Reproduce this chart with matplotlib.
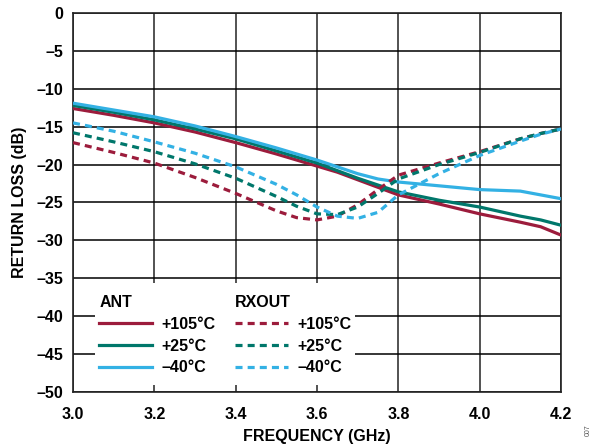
import numpy as np
import matplotlib.pyplot as plt
from matplotlib.patches import Rectangle
from matplotlib.lines import Line2D
from matplotlib.ticker import FuncFormatter

plt.rcParams['font.family'] = ['Liberation Sans', 'DejaVu Sans']
plt.rcParams['font.weight'] = 'bold'

# frecuencias (GHz)
freq = [3.0, 3.1, 3.2, 3.3, 3.4, 3.5, 3.55, 3.6, 3.65, 3.7, 3.75, 3.8,
        3.9, 4.0, 4.1, 4.15, 4.2]

# ANT (líneas continuas)
ant_105 = [-12.6, -13.5, -14.5, -15.7, -17.1, -18.6, -19.4, -20.2, -21.0, -22.0,
           -23.0, -24.0, -25.2, -26.5, -27.6, -28.2, -29.3]
ant_25 = [-12.2, -13.1, -14.1, -15.3, -16.6, -18.2, -19.0, -19.8, -20.8, -21.8,
          -22.7, -23.6, -24.7, -25.6, -26.8, -27.3, -28.0]
ant_m40 = [-11.9, -12.8, -13.7, -14.9, -16.3, -17.8, -18.6, -19.4, -20.3, -21.2,
           -21.9, -22.3, -22.8, -23.3, -23.5, -24.0, -24.5]

# RXOUT (líneas discontinuas)
rx_105 = [-17.1, -18.4, -19.8, -21.7, -23.8, -26.1, -27.0, -27.3, -26.8, -25.3,
          -23.3, -21.4, -19.8, -18.3, -16.6, -15.9, -15.3]
rx_25 = [-15.8, -17.0, -18.3, -19.9, -21.8, -24.2, -25.5, -26.5, -26.6, -25.6,
         -23.8, -21.9, -20.0, -18.4, -16.6, -15.9, -15.3]
rx_m40 = [-14.5, -15.6, -17.0, -18.5, -20.3, -22.6, -24.0, -25.6, -26.8, -27.1,
          -26.3, -24.0, -21.2, -18.8, -16.9, -16.0, -15.3]

red = '#9c1c3c'
green = '#00776b'
blue = '#33b1e4'

fig = plt.figure(figsize=(5.97, 4.46), dpi=100)
ax = fig.add_axes([0.1223, 0.1211, 0.8174, 0.8498])

lw = 2.3
dash = (0, (2.2, 1.6))
ax.plot(freq, ant_105, color=red, lw=lw, zorder=4)
ax.plot(freq, ant_25, color=green, lw=lw, zorder=4)
ax.plot(freq, ant_m40, color=blue, lw=lw, zorder=4)
ax.plot(freq, rx_105, color=red, lw=lw, ls=dash, zorder=4)
ax.plot(freq, rx_25, color=green, lw=lw, ls=dash, zorder=4)
ax.plot(freq, rx_m40, color=blue, lw=lw, ls=dash, zorder=4)

ax.set_xlim(3.0, 4.2)
ax.set_ylim(-50, 0)
ax.set_xticks(np.arange(3.0, 4.21, 0.2))
ax.set_yticks(np.arange(-50, 1, 5))
ax.xaxis.set_major_formatter(FuncFormatter(lambda v, p: f'{v:.1f}'))
ax.yaxis.set_major_formatter(FuncFormatter(lambda v, p: f'{v:.0f}'.replace('-', '\u2013')))
ax.tick_params(length=0, labelsize=11.5)
ax.tick_params(axis='x', pad=11)
ax.tick_params(axis='y', pad=7)
ax.grid(axis='y', color='black', lw=1.1, zorder=1)
ax.grid(axis='x', color='#444444', lw=1.3, zorder=1)
ax.set_axisbelow(True)
for s in ax.spines.values():
    s.set_color('#222222')
    s.set_linewidth(1.2)

ax.set_xlabel('FREQUENCY (GHz)', fontsize=11.5, fontweight='bold', labelpad=5)
ax.set_ylabel('RETURN LOSS (dB)', fontsize=11.5, fontweight='bold', labelpad=7)

# fondo blanco de la leyenda
ax.add_patch(Rectangle((0.045, 0.018), 0.533, 0.27, transform=ax.transAxes,
                       facecolor='white', edgecolor='none', zorder=2))

labels = ['+105°C', '+25°C', '\u201340°C']
h1 = [Line2D([], [], color=c, lw=lw) for c in (red, green, blue)]
h2 = [Line2D([], [], color=c, lw=lw, ls=dash) for c in (red, green, blue)]
kw = dict(frameon=False, fontsize=11.5, title_fontproperties={'weight': 'bold', 'size': 11.5},
          alignment='left', handlelength=3.3, handletextpad=0.6, labelspacing=0.42,
          borderpad=0, borderaxespad=0, loc='upper left')
leg1 = ax.legend(h1, labels, title='ANT', bbox_to_anchor=(0.054, 0.255), **kw)
leg1.set_zorder(5)
ax.add_artist(leg1)
leg2 = ax.legend(h2, labels, title='RXOUT', bbox_to_anchor=(0.332, 0.255), **kw)
leg2.set_zorder(5)

fig.text(0.985, 0.035, '007', rotation=90, fontsize=5, color='#555555',
         fontweight='normal', ha='center', va='center')

fig.savefig('out.png', dpi=100)
